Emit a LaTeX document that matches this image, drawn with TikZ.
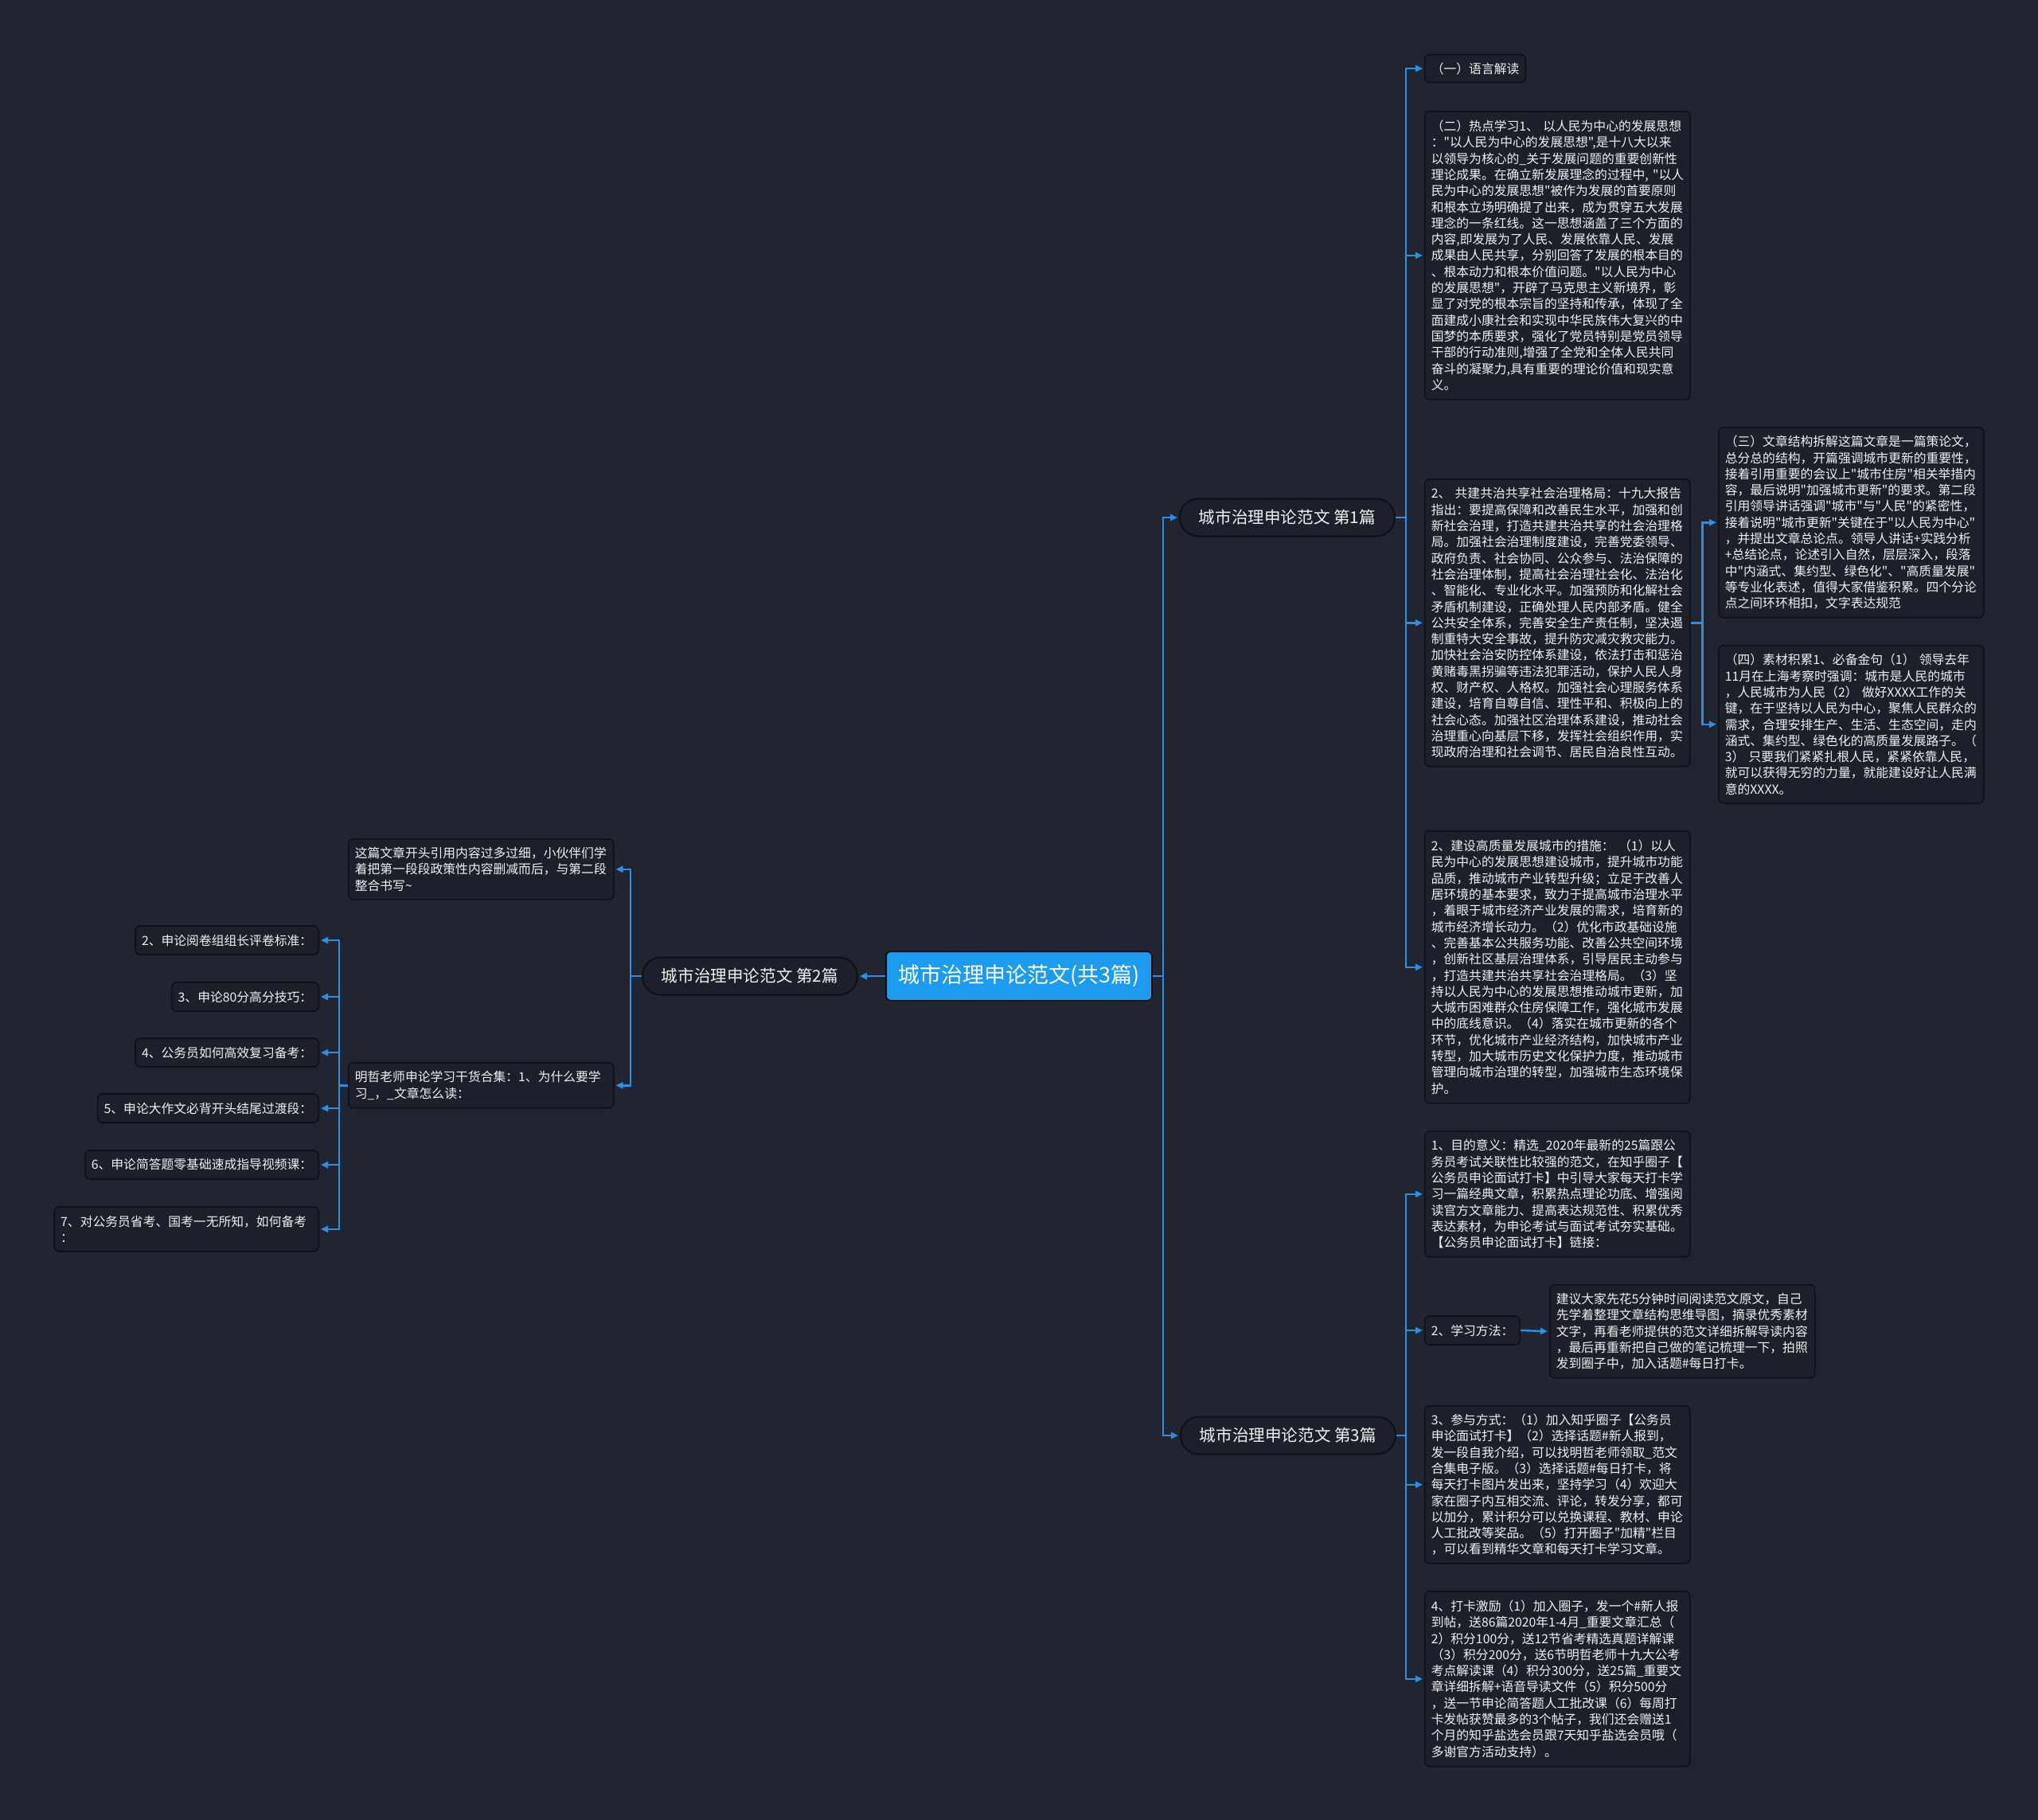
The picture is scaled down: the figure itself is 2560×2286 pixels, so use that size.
\documentclass[tikz,border=0pt]{standalone}
\usepackage{fontspec}
\newfontfamily\cjk{Noto Sans CJK SC}
\usetikzlibrary{arrows.meta}
\definecolor{bgc}{RGB}{33,37,49}
\definecolor{boxfill}{RGB}{29,32,42}
\definecolor{boxline}{RGB}{14,16,21}
\definecolor{txt}{RGB}{240,240,240}
\definecolor{rootblue}{RGB}{28,155,239}
\definecolor{linec}{RGB}{44,143,227}
\tikzset{
  txtbox/.style={draw=boxline, line width=1.6pt, fill=boxfill, rounded corners=6pt,
    text=txt, align=left, inner xsep=8pt, inner ysep=0pt,
    font=\cjk\fontsize{15.8pt}{20.3pt}\selectfont},
  bigbox/.style={txtbox, anchor=north west, text width=317pt},
  smallbox/.style={txtbox, minimum height=36pt},
  pill/.style={draw=boxline, line width=2pt, fill=boxfill, rounded corners=23pt,
    text=txt, minimum width=270pt, minimum height=47pt, inner sep=0pt,
    font=\cjk\fontsize{20.6pt}{24pt}\selectfont},
  rootbox/.style={draw=boxline, line width=2pt, fill=rootblue, rounded corners=6pt,
    text=white, minimum width=334pt, minimum height=62pt, inner sep=0pt,
    font=\cjk\fontsize{27pt}{32pt}\selectfont},
  conn/.style={draw=linec, line width=2.4pt, -{Triangle[length=9pt,width=8pt]}, shorten >=2pt},
}
\begin{document}
\begin{tikzpicture}[x=1pt,y=-1pt]
\useasboundingbox[fill=bgc] (0,0) rectangle (2560,2286);

% root and level 1
\node[rootbox] (root) at (1280,1226) {城市治理申论范文(共3篇)};
\node[pill] (p1) at (1617,650) {城市治理申论范文 第1篇};
\node[pill] (p2) at (942,1226) {城市治理申论范文 第2篇};
\node[pill] (p3) at (1618,1803) {城市治理申论范文 第3篇};

% children of p1
\node[smallbox, anchor=west, minimum height=35pt] (a1) at (1789,86) {（一）语言解读};
\node[bigbox, minimum height=362pt] (a2) at (1789,139) {（二）热点学习1、~以人民为中心的发展思想\\
："以人民为中心的发展思想",是十八大以来\\
以领导为核心的\_关于发展问题的重要创新性\\
理论成果。在确立新发展理念的过程中,~"以人\\
民为中心的发展思想"被作为发展的首要原则\\
和根本立场明确提了出来，成为贯穿五大发展\\
理念的一条红线。这一思想涵盖了三个方面的\\
内容,即发展为了人民、发展依靠人民、发展\\
成果由人民共享，分别回答了发展的根本目的\\
、根本动力和根本价值问题。"以人民为中心\\
的发展思想"，开辟了马克思主义新境界，彰\\
显了对党的根本宗旨的坚持和传承，体现了全\\
面建成小康社会和实现中华民族伟大复兴的中\\
国梦的本质要求，强化了党员特别是党员领导\\
干部的行动准则,增强了全党和全体人民共同\\
奋斗的凝聚力,具有重要的理论价值和现实意\\
义。};
\node[bigbox, minimum height=361pt] (a3) at (1789,601) {2、~共建共治共享社会治理格局：十九大报告\\
指出：要提高保障和改善民生水平，加强和创\\
新社会治理，打造共建共治共享的社会治理格\\
局。加强社会治理制度建设，完善党委领导、\\
政府负责、社会协同、公众参与、法治保障的\\
社会治理体制，提高社会治理社会化、法治化\\
、智能化、专业化水平。加强预防和化解社会\\
矛盾机制建设，正确处理人民内部矛盾。健全\\
公共安全体系，完善安全生产责任制，坚决遏\\
制重特大安全事故，提升防灾减灾救灾能力。\\
加快社会治安防控体系建设，依法打击和惩治\\
黄赌毒黑拐骗等违法犯罪活动，保护人民人身\\
权、财产权、人格权。加强社会心理服务体系\\
建设，培育自尊自信、理性平和、积极向上的\\
社会心态。加强社区治理体系建设，推动社会\\
治理重心向基层下移，发挥社会组织作用，实\\
现政府治理和社会调节、居民自治良性互动。};
\node[bigbox, minimum height=239pt] (b1) at (2158,536) {（三）文章结构拆解这篇文章是一篇策论文，\\
总分总的结构，开篇强调城市更新的重要性，\\
接着引用重要的会议上"城市住房"相关举措内\\
容，最后说明"加强城市更新"的要求。第二段\\
引用领导讲话强调"城市"与"人民"的紧密性，\\
接着说明"城市更新"关键在于"以人民为中心"\\
，并提出文章总论点。领导人讲话+实践分析\\
+总结论点，论述引入自然，层层深入，段落\\
中"内涵式、集约型、绿色化"、"高质量发展"\\
等专业化表述，值得大家借鉴积累。四个分论\\
点之间环环相扣，文字表达规范};
\node[bigbox, minimum height=198pt] (b2) at (2158,810) {（四）素材积累1、必备金句（1）~领导去年\\
11月在上海考察时强调：城市是人民的城市\\
，人民城市为人民（2）~做好XXXX工作的关\\
键，在于坚持以人民为中心，聚焦人民群众的\\
需求，合理安排生产、生活、生态空间，走内\\
涵式、集约型、绿色化的高质量发展路子。（\\
3）~只要我们紧紧扎根人民，紧紧依靠人民，\\
就可以获得无穷的力量，就能建设好让人民满\\
意的XXXX。};
\node[bigbox, minimum height=342pt] (a4) at (1789,1043) {2、建设高质量发展城市的措施：~（1）以人\\
民为中心的发展思想建设城市，提升城市功能\\
品质，推动城市产业转型升级；立足于改善人\\
居环境的基本要求，致力于提高城市治理水平\\
，着眼于城市经济产业发展的需求，培育新的\\
城市经济增长动力。（2）优化市政基础设施\\
、完善基本公共服务功能、改善公共空间环境\\
，创新社区基层治理体系，引导居民主动参与\\
，打造共建共治共享社会治理格局。（3）坚\\
持以人民为中心的发展思想推动城市更新，加\\
大城市困难群众住房保障工作，强化城市发展\\
中的底线意识。（4）落实在城市更新的各个\\
环节，优化城市产业经济结构，加快城市产业\\
转型，加大城市历史文化保护力度，推动城市\\
管理向城市治理的转型，加强城市生态环境保\\
护。};

% children of p3
\node[bigbox, minimum height=158pt] (c1) at (1789,1420) {1、目的意义：精选\_2020年最新的25篇跟公\\
务员考试关联性比较强的范文，在知乎圈子【\\
公务员申论面试打卡】中引导大家每天打卡学\\
习一篇经典文章，积累热点理论功底、增强阅\\
读官方文章能力、提高表达规范性、积累优秀\\
表达素材，为申论考试与面试考试夯实基础。\\
【公务员申论面试打卡】链接：};
\node[smallbox, anchor=west] (c2) at (1789,1671) {2、学习方法：};
\node[bigbox, minimum height=117pt] (c2a) at (1946,1613) {建议大家先花5分钟时间阅读范文原文，自己\\
先学着整理文章结构思维导图，摘录优秀素材\\
文字，再看老师提供的范文详细拆解导读内容\\
，最后再重新把自己做的笔记梳理一下，拍照\\
发到圈子中，加入话题\#每日打卡。};
\node[bigbox, minimum height=198pt] (c3) at (1789,1765) {3、参与方式：（1）加入知乎圈子【公务员\\
申论面试打卡】（2）选择话题\#新人报到，\\
发一段自我介绍，可以找明哲老师领取\_范文\\
合集电子版。（3）选择话题\#每日打卡，将\\
每天打卡图片发出来，坚持学习（4）欢迎大\\
家在圈子内互相交流、评论，转发分享，都可\\
以加分，累计积分可以兑换课程、教材、申论\\
人工批改等奖品。（5）打开圈子"加精"栏目\\
，可以看到精华文章和每天打卡学习文章。};
\node[bigbox, minimum height=220pt] (c4) at (1789,1998) {4、打卡激励（1）加入圈子，发一个\#新人报\\
到帖，送86篇2020年1-4月\_重要文章汇总（\\
2）积分100分，送12节省考精选真题详解课\\
（3）积分200分，送6节明哲老师十九大公考\\
考点解读课（4）积分300分，送25篇\_重要文\\
章详细拆解+语音导读文件（5）积分500分\\
，送一节申论简答题人工批改课（6）每周打\\
卡发帖获赞最多的3个帖子，我们还会赠送1\\
个月的知乎盐选会员跟7天知乎盐选会员哦（\\
多谢官方活动支持）。};

% children of p2
\node[bigbox, minimum height=76pt] (d1) at (437,1053) {这篇文章开头引用内容过多过细，小伙伴们学\\
着把第一段段政策性内容删减而后，与第二段\\
整合书写\textasciitilde};
\node[bigbox, minimum height=57pt] (d2) at (437,1334) {明哲老师申论学习干货合集：1、为什么要学\\
习\_，\_文章怎么读：};
\node[smallbox, anchor=east] (e1) at (401,1181) {2、申论阅卷组组长评卷标准：};
\node[smallbox, anchor=east] (e2) at (401,1252) {3、申论80分高分技巧：};
\node[smallbox, anchor=east] (e3) at (401,1322) {4、公务员如何高效复习备考：};
\node[smallbox, anchor=east] (e4) at (401,1392) {5、申论大作文必背开头结尾过渡段：};
\node[smallbox, anchor=east] (e5) at (401,1463) {6、申论简答题零基础速成指导视频课：};
\node[txtbox, anchor=north east, text width=316pt, minimum height=56pt] (e6) at (401,1515) {7、对公务员省考、国考一无所知，如何备考\\
：};

% connectors
\draw[conn] (root.east) -- ++(13,0) |- (p1.west);
\draw[conn] (root.east) -- ++(13,0) |- (p3.west);
\draw[conn] (root.west) -- (p2.east);

\foreach \n in {a1,a2,a3,a4} \draw[conn] (p1.east) -- ++(13,0) |- (\n.west);
\foreach \n in {b1,b2} \draw[conn] (a3.east) -- ++(15,0) |- (\n.west);
\foreach \n in {c1,c2,c3,c4} \draw[conn] (p3.east) -- ++(12,0) |- (\n.west);
\draw[conn] (c2.east) -- (c2a.west);
\foreach \n in {d1,d2} \draw[conn] (p2.west) -- ++(-14,0) |- (\n.east);
\foreach \n in {e1,e2,e3,e4,e5,e6} \draw[conn] (d2.west) -- ++(-11,0) |- (\n.east);
\end{tikzpicture}
\end{document}
